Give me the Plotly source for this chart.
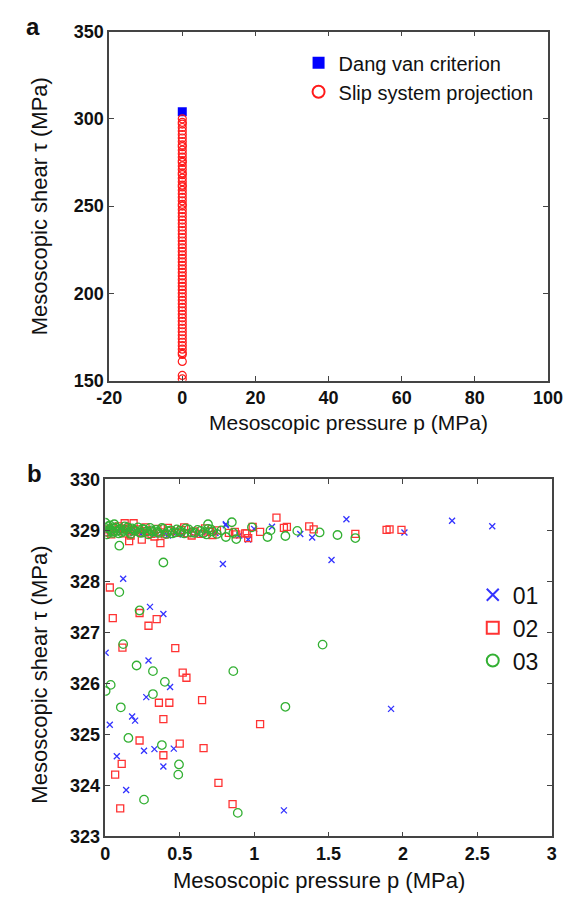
import plotly.graph_objects as go

# ---------------- Panel a data ----------------
dv_p = [0.0]
dv_tau = [304]
slip_tau = [300, 298, 297, 295, 293, 291, 289, 287, 285, 284, 282, 280, 278, 276, 275,
            273, 271, 269, 268, 266, 264, 262, 261, 259, 257, 255, 253, 251, 250, 248,
            246, 244, 242, 240, 238, 236, 234, 232, 230, 228, 226, 224, 222, 220, 218,
            216, 214, 212, 210, 208, 206, 204, 202, 200, 198, 196, 194, 192, 190, 188,
            186, 184, 182, 180, 178, 176, 174, 172, 170, 168, 166, 165, 161, 153, 151]
slip_p = [0, 0, 0, 0, 0, 0, 0, 0, 0, 0, 0, 0, 0, 0, 0,
          0, 0, 0, 0, 0, 0, 0, 0, 0, 0, 0, 0, 0, 0, 0,
          0, 0, 0, 0, 0, 0, 0, 0, 0, 0, 0, 0, 0, 0, 0,
          0, 0, 0, 0, 0, 0, 0, 0, 0, 0, 0, 0, 0, 0, 0,
          0, 0, 0, 0, 0, 0, 0, 0, 0, 0, 0, 0, 0, 0, 0]

# ---------------- Panel b data ----------------
s01_p = [0.00, 0.03, 0.06, 0.09, 0.12, 0.16, 0.20, 0.24, 0.28, 0.33, 0.38, 0.42, 0.47, 0.52,
         0.57, 0.62, 0.68, 0.74, 0.90, 1.00, 0.81, 0.81, 1.12, 1.31, 1.39, 1.62, 2.01, 2.33,
         2.60, 0.96,
         0.12, 0.79, 1.52, 0.30, 0.39, 0.002, 0.29, 0.435, 0.275, 0.18, 0.20, 0.03, 0.26,
         0.33, 0.46, 0.077, 0.39, 0.14, 1.20, 1.92]
s01_tau = [329.00, 328.98, 329.02, 328.97, 329.01, 328.95, 329.00, 328.93, 328.97, 328.92,
           328.95, 328.90, 328.94, 328.92, 328.96, 328.93, 328.97, 328.95, 328.90, 329.03,
           329.10, 329.12, 329.07, 328.93, 328.86, 329.22, 328.96, 329.19, 329.08, 328.82,
           328.05, 328.34, 328.42, 327.50, 327.36, 326.60, 326.45, 325.93, 325.73, 325.35,
           325.27, 325.19, 324.68, 324.71, 324.72, 324.57, 324.37, 323.91, 323.51, 325.50]

s02_p = [0.00, 0.02, 0.05, 0.08, 0.11, 0.13, 0.15, 0.19, 0.22, 0.25, 0.28, 0.31, 0.35, 0.37,
         0.40, 0.44, 0.48, 0.51, 0.55, 0.60, 0.64, 0.70, 0.75, 0.16, 0.245, 0.37, 0.13, 0.19,
         0.04, 0.09, 0.17, 0.27, 0.33, 0.42, 0.53, 0.58, 0.67, 0.72,
         0.99, 1.04, 0.95, 0.87, 0.96, 0.83, 0.94, 0.88, 1.15, 1.37, 1.40, 1.20, 1.22, 1.68,
         1.89, 1.91, 1.99,
         0.03, 0.23, 0.05, 0.345, 0.29, 0.115, 0.47, 0.52, 0.545, 0.36, 0.43, 0.65, 0.39,
         1.04, 0.23, 0.50, 0.66, 0.39, 0.11, 0.066, 0.76, 0.10, 0.855]
s02_tau = [329.02, 328.96, 329.05, 328.99, 329.03, 328.94, 329.04, 328.98, 329.02, 328.95,
           328.99, 328.93, 329.03, 328.96, 328.92, 329.00, 328.95, 329.01, 328.94, 328.98,
           328.93, 328.97, 329.00, 328.79, 328.82, 328.75, 329.14, 329.14,
           328.92, 329.08, 328.90, 329.06, 328.88, 329.05, 329.06, 328.90, 329.04, 328.91,
           329.07, 328.97, 328.94, 328.97, 328.85, 328.95, 328.94, 328.92, 329.25, 329.08,
           329.02, 329.05, 329.07, 328.93, 329.01, 329.02, 329.01,
           327.88, 327.38, 327.28, 327.26, 327.13, 326.70, 326.69, 326.21, 326.11, 325.62,
           325.62, 325.67, 325.30, 325.20, 324.88, 324.82, 324.73, 324.59, 324.42, 324.21,
           324.05, 323.55, 323.63]

s03_p = [0.00, 0.01, 0.02, 0.04, 0.05, 0.07, 0.08, 0.10, 0.11, 0.13, 0.14, 0.16, 0.18, 0.20,
         0.22, 0.24, 0.26, 0.28, 0.30, 0.32, 0.34, 0.36, 0.39, 0.42, 0.45, 0.48, 0.51, 0.54,
         0.58, 0.62, 0.66, 0.69, 0.72, 0.75, 0.78, 0.00, 0.03, 0.06,
         0.01, 0.03, 0.05, 0.06, 0.09, 0.12, 0.15, 0.17, 0.19, 0.23, 0.25, 0.29, 0.31, 0.35,
         0.38, 0.41, 0.44, 0.47, 0.50, 0.53, 0.56, 0.60, 0.64, 0.68, 0.71,
         0.85, 0.69, 0.81, 0.88, 0.86, 1.11, 1.09, 1.21, 0.985, 1.29, 1.44, 1.56, 1.68,
         0.094, 0.39, 0.094, 0.23, 0.12, 1.46, 0.21, 0.32, 0.86, 0.40, 0.036, 0.002, 0.32,
         0.104, 1.21, 0.155, 0.38, 0.495, 0.49, 0.26, 0.89]
s03_tau = [329.05, 328.97, 329.08, 329.00, 328.95, 329.06, 328.99, 329.03, 328.96, 329.08,
           329.01, 328.97, 329.04, 328.99, 329.06, 328.95, 329.02, 328.98, 329.05, 328.97,
           329.01, 328.95, 329.03, 328.98, 328.94, 329.02, 328.97, 329.04, 328.96, 329.01,
           328.95, 329.03, 328.98, 328.93, 329.00, 329.15, 329.10, 329.12,
           328.92, 329.02, 328.98, 329.04, 328.94, 328.99, 329.06, 328.93, 329.01, 328.96,
           329.03, 328.92, 329.00, 328.97, 329.05, 328.93, 329.00, 328.96, 328.99, 328.94,
           329.02, 328.95, 328.99, 328.92, 329.02,
           329.16, 329.12, 328.87, 328.83, 328.95, 329.00, 328.87, 328.89, 329.06, 328.99,
           328.96, 328.91, 328.85,
           328.70, 328.37, 327.79, 327.43, 326.77, 326.76, 326.35, 326.24, 326.24, 326.03,
           325.97, 325.85, 325.79, 325.53, 325.54, 324.93, 324.79, 324.41, 324.21, 323.72,
           323.46]

xa_ticks = [-20, 0, 20, 40, 60, 80, 100]
xa_labels = ["-20", "0", "20", "40", "60", "80", "100"]
ya_ticks = [150, 200, 250, 300, 350]
xb_ticks = [0, 0.5, 1, 1.5, 2, 2.5, 3]
xb_labels = ["0", "0.5", "1", "1.5", "2", "2.5", "3"]
yb_ticks = [323, 324, 325, 326, 327, 328, 329, 330]

W, H = 582, 906
FONT = "Liberation Sans, Arial, sans-serif"

fig = go.Figure()

fig.add_trace(go.Scatter(x=dv_p, y=dv_tau, mode="markers", name="Dang van criterion",
                         marker=dict(symbol="square", size=9, color="#0000ff"),
                         xaxis="x", yaxis="y", legend="legend"))
fig.add_trace(go.Scatter(x=slip_p, y=slip_tau, mode="markers", name="Slip system projection",
                         marker=dict(symbol="circle-open", size=8, color="#ff1a1a",
                                     line=dict(width=1.2)),
                         xaxis="x", yaxis="y", legend="legend"))

fig.add_trace(go.Scatter(x=s01_p, y=s01_tau, mode="markers", name="01",
                         marker=dict(symbol="x-thin-open", size=6, color="#3333ff",
                                     line=dict(width=1.3, color="#3333ff")),
                         xaxis="x2", yaxis="y2", legend="legend2"))
fig.add_trace(go.Scatter(x=s02_p, y=s02_tau, mode="markers", name="02",
                         marker=dict(symbol="square-open", size=7, color="#ff3333",
                                     line=dict(width=1.3)),
                         xaxis="x2", yaxis="y2", legend="legend2"))
fig.add_trace(go.Scatter(x=s03_p, y=s03_tau, mode="markers", name="03",
                         marker=dict(symbol="circle-open", size=8.5, color="#33b033",
                                     line=dict(width=1.3)),
                         xaxis="x2", yaxis="y2", legend="legend2"))

axis_common = dict(showline=True, linecolor="#444444", linewidth=1.5, mirror="ticks",
                   ticks="inside", ticklen=5, tickcolor="#444444", tickwidth=1.3,
                   showgrid=False, zeroline=False,
                   tickfont=dict(family=FONT, size=18, color="#111111", weight="bold"))

fig.update_layout(
    width=W, height=H, margin=dict(l=0, r=0, t=0, b=0),
    paper_bgcolor="white", plot_bgcolor="white",
    font=dict(family=FONT, color="#111111"),
    xaxis=dict(domain=[101 / W, 562 / W], range=[-20, 100], tickvals=xa_ticks,
               ticktext=xa_labels, anchor="y", **axis_common),
    yaxis=dict(domain=[1 - 379 / H, 1 - 22 / H], range=[150, 350], tickvals=ya_ticks,
               anchor="x", **axis_common),
    xaxis2=dict(domain=[97 / W, 566 / W], range=[0, 3], tickvals=xb_ticks, ticktext=xb_labels,
                anchor="y2", **axis_common),
    yaxis2=dict(domain=[1 - 845 / H, 1 - 480 / H], range=[323, 330], tickvals=yb_ticks,
                anchor="x2", **axis_common),
    legend=dict(x=300 / W, y=1 - 34 / H, xanchor="left", yanchor="top",
                bgcolor="white", borderwidth=0, itemsizing="constant",
                font=dict(family=FONT, size=20, color="#111111"), tracegroupgap=0),
    legend2=dict(x=483 / W, y=1 - 576 / H, xanchor="left", yanchor="top",
                 bgcolor="white", borderwidth=0, itemsizing="constant",
                 font=dict(family=FONT, size=23, color="#111111"), tracegroupgap=0),
    showlegend=True,
)

ann = [
    dict(text="<b>a</b>", x=21 / W, y=1 - 17 / H, size=24),
    dict(text="<b>b</b>", x=23 / W, y=1 - 474 / H, size=24),
    dict(text="Mesoscopic shear τ (MPa)", x=28 / W, y=1 - 201 / H, angle=-90, size=22),
    dict(text="Mesoscopic pressure p (MPa)", x=352 / W, y=1 - 422 / H, size=21),
    dict(text="Mesoscopic shear τ (MPa)", x=28 / W, y=1 - 680 / H, angle=-90, size=22),
    dict(text="Mesoscopic pressure p (MPa)", x=321 / W, y=1 - 890 / H, size=22),
]
for a in ann:
    fig.add_annotation(xref="paper", yref="paper", xanchor="center", yanchor="middle",
                       showarrow=False, text=a["text"], x=a["x"], y=a["y"],
                       textangle=a.get("angle", 0),
                       font=dict(family=FONT, color="#111111", size=a["size"]))

fig.write_html("out.html")
